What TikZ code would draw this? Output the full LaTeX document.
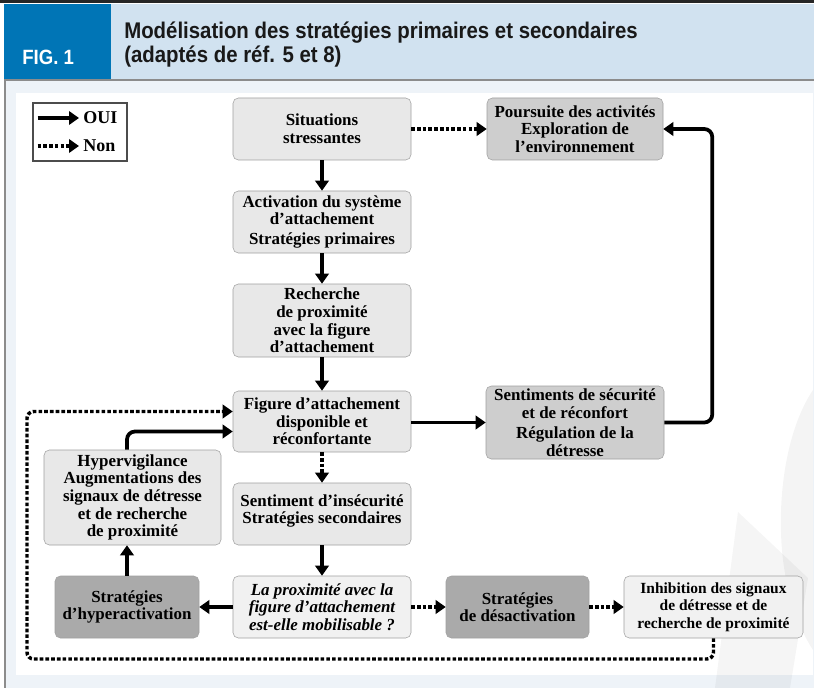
\documentclass[tikz,border=0pt]{standalone}
\usepackage{fontspec}
\setmainfont{Liberation Serif}
\newfontfamily\headfont[FakeStretch=0.9]{Liberation Sans}
\usetikzlibrary{arrows.meta}
\definecolor{figblue}{RGB}{0,117,182}
\definecolor{titleband}{RGB}{209,226,240}
\definecolor{pagebg}{RGB}{238,243,248}
\definecolor{boxline}{RGB}{160,160,160}
\definecolor{grisclair}{RGB}{232,232,232}
\definecolor{grispale}{RGB}{241,241,241}
\definecolor{grismoyen}{RGB}{206,206,206}
\definecolor{grisfonce}{RGB}{170,170,170}

\begin{document}
\begin{tikzpicture}[x=0.75pt, y=-0.75pt,
    box/.style={draw=boxline, rounded corners=4pt, fill=grisclair, align=center, inner sep=1pt,
      minimum width=133.5pt, minimum height=46.5pt,
      font=\fontsize{12.7}{13.2}\selectfont\bfseries},
    oui/.style={line width=2.8pt, -{Triangle[length=7.5pt,width=10pt]}},
    non/.style={line width=2.6pt, dash pattern=on 2.7pt off 1.6pt, -{Triangle[length=7.5pt,width=10pt]}}]
    % cadre et bandeau
    \useasboundingbox (0,0) rectangle (814,688);
    \fill[pagebg] (5,80) rectangle (814,688);
    \fill[white] (16,93) rectangle (813,675);
    \fill[black, opacity=0.045] (813,390) .. controls (786,430) and (776,500) .. (783,560)
        .. controls (788,600) and (800,630) .. (813,650) -- cycle;
    \fill[black, opacity=0.04] (738,512) -- (808,578) -- (790,688) -- (715,688) -- cycle;
    \fill[figblue] (4,4) rectangle (111,80);
    \fill[titleband] (111,4) rectangle (814,80);
    \fill[black!85] (0,0) rectangle (814,3.5);
    \draw[black!45, line width=0.8pt] (4,80) -- (814,80);
    \draw[black!45, line width=1.4pt] (5,80) -- (5,688);
    \node[anchor=base west, inner sep=0, text=white, font=\headfont\bfseries\fontsize{15.5}{18}\selectfont] (fig) at (22,65) {FIG. 1};
    \node[anchor=base west, align=left, inner sep=0, text=black!90, font=\headfont\bfseries\fontsize{17}{18}\selectfont] (titre) at (124,39)
        {Modélisation des stratégies primaires et secondaires};
    \node[anchor=base west, align=left, inner sep=0, text=black!90, font=\headfont\bfseries\fontsize{17}{18}\selectfont] (titre2) at (124,63)
        {(adaptés de réf. 5 et 8)};
    % legende
    \node[draw=black!70, fill=white, line width=0.8pt, minimum width=70.5pt, minimum height=43.5pt] (leg) at (80,132) {};
    \node[anchor=west, inner sep=0, font=\fontsize{13.5}{14}\selectfont\bfseries] (lgoui) at (83,118) {OUI};
    \node[anchor=west, inner sep=0, font=\fontsize{13.5}{14}\selectfont\bfseries] (lgnon) at (83,146) {Non};
    \draw[oui] ([xshift=-34pt]lgoui.west) -- ([xshift=-3pt]lgoui.west);
    \draw[non] ([xshift=-34pt]lgnon.west) -- ([xshift=-3pt]lgnon.west);
    % colonne centrale
    \node[box] (situ) at (322,129) {Situations\\stressantes};
    \node[box] (activ) at (322,222) {Activation du système\\d’attachement\\[2pt]Stratégies primaires};
    \node[box, minimum height=54.75pt] (rech) at (322,320.5) {Recherche\\de proximité\\avec la figure\\d’attachement};
    \node[box, minimum height=45.75pt] (figure) at (322,421.5) {Figure d’attachement\\disponible et\\réconfortante};
    \node[box] (insec) at (322,514) {Sentiment d’insécurité\\Stratégies secondaires\\[-6pt]};
    \node[box, fill=grispale, font=\fontsize{12.7}{13.2}\selectfont\bfseries\itshape] (mobil) at (322,607)
        {La proximité avec la\\figure d’attachement\\est-elle mobilisable ?};
    % colonne droite
    \node[box, fill=grismoyen, minimum width=132pt] (poursuite) at (575,129) {Poursuite des activités\\Exploration de\\l’environnement};
    \node[box, fill=grismoyen, minimum height=54.75pt] (securite) at (575,422.5) {Sentiments de sécurité\\et de réconfort\\[2pt]Régulation de la\\détresse};
    % gauche et bas
    \node[box, minimum width=132.75pt, minimum height=71.25pt] (hypervig) at (132.5,497.5)
        {Hypervigilance\\Augmentations des\\signaux de détresse\\et de recherche\\de proximité};
    \node[box, fill=grisfonce, minimum width=108pt] (hyperact) at (127,607) {Stratégies\\d’hyperactivation};
    \node[box, fill=grisfonce, minimum width=107.25pt] (desact) at (517.5,607) {Stratégies\\de désactivation};
    \node[box, fill=grispale, minimum width=134.25pt, font=\fontsize{11.6}{13.2}\selectfont\bfseries] (inhib) at (713.5,607)
        {Inhibition des signaux\\de détresse et de\\recherche de proximité};
    \coordinate (boucle) at (27,659);
    % fleches
    \draw[oui] (situ) -- (activ);
    \draw[oui] (activ) -- (rech);
    \draw[oui] (rech) -- (figure);
    \draw[non] (figure) -- (insec);
    \draw[oui] (insec) -- (mobil);
    \draw[non] (situ) -- (poursuite);
    \draw[oui] (figure.east |- securite) -- (securite);
    \draw[oui, rounded corners=6pt] (securite.east) -- ++(48,0) |- (poursuite.east);
    \draw[oui] (mobil) -- (hyperact);
    \draw[non] (mobil) -- (desact);
    \draw[non] (desact) -- (inhib);
    \draw[oui] (hyperact) -- (hypervig.south -| hyperact);
    \draw[oui, rounded corners=6pt] (hypervig.north -| hyperact) |- ([yshift=-7.5pt]figure.west);
    \draw[non, rounded corners=5pt] (inhib.south) |- (boucle) |- ([yshift=7.5pt]figure.west);
\end{tikzpicture}
\end{document}
